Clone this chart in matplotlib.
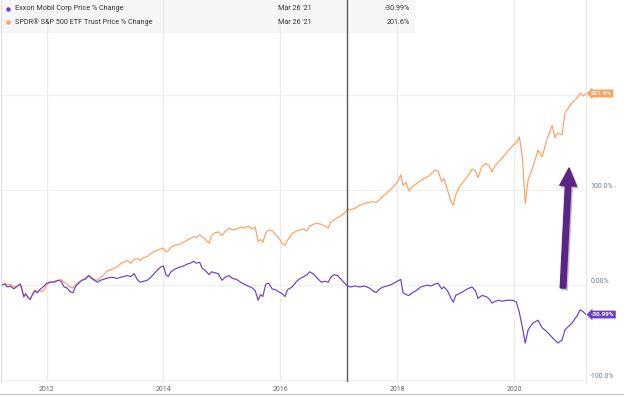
import matplotlib
matplotlib.use("Agg")
import matplotlib.pyplot as plt
from matplotlib.patches import Rectangle

plt.rcParams['font.family'] = ['Roboto', 'DejaVu Sans']

# ---- data (decimal year, % change) ----
dates = [2011.23, 2011.29, 2011.33, 2011.38, 2011.44, 2011.50, 2011.55, 2011.58, 2011.61, 2011.64,
         2011.68, 2011.72, 2011.76, 2011.80, 2011.84, 2011.88, 2011.92, 2011.96, 2012.00, 2012.06,
         2012.13, 2012.20, 2012.25, 2012.30, 2012.35, 2012.40, 2012.45, 2012.50, 2012.55, 2012.60,
         2012.66, 2012.72, 2012.77, 2012.82, 2012.87, 2012.92, 2012.97, 2013.02, 2013.08, 2013.14,
         2013.20, 2013.26, 2013.32, 2013.38, 2013.44, 2013.50, 2013.55, 2013.60, 2013.66, 2013.72,
         2013.78, 2013.84, 2013.90, 2013.95, 2014.00, 2014.04, 2014.08, 2014.13, 2014.20, 2014.28,
         2014.34, 2014.40, 2014.46, 2014.52, 2014.56, 2014.62, 2014.66, 2014.72, 2014.78, 2014.82,
         2014.88, 2014.94, 2015.00, 2015.05, 2015.12, 2015.18, 2015.25, 2015.32, 2015.38, 2015.45,
         2015.52, 2015.57, 2015.62, 2015.66, 2015.70, 2015.75, 2015.80, 2015.86, 2015.92, 2015.97,
         2016.03, 2016.08, 2016.12, 2016.20, 2016.28, 2016.34, 2016.40, 2016.46, 2016.50, 2016.56,
         2016.62, 2016.70, 2016.76, 2016.82, 2016.86, 2016.92, 2016.98, 2017.04, 2017.10, 2017.15,
         2017.20, 2017.28, 2017.36, 2017.44, 2017.52, 2017.58, 2017.64, 2017.70, 2017.76, 2017.82,
         2017.88, 2017.94, 2018.00, 2018.06, 2018.10, 2018.15, 2018.20, 2018.26, 2018.32, 2018.40,
         2018.46, 2018.52, 2018.58, 2018.64, 2018.70, 2018.76, 2018.80, 2018.86, 2018.92, 2018.96,
         2019.00, 2019.06, 2019.12, 2019.20, 2019.28, 2019.34, 2019.38, 2019.45, 2019.52, 2019.58,
         2019.62, 2019.68, 2019.74, 2019.80, 2019.88, 2019.98, 2020.04, 2020.09, 2020.14, 2020.19,
         2020.24, 2020.32, 2020.41, 2020.48, 2020.56, 2020.65, 2020.70, 2020.75, 2020.82, 2020.87,
         2020.99, 2021.08, 2021.13, 2021.18, 2021.23]

spy = [0, 2, 0, 1, -2, -1, 1, -4, -13, -10,
       -12, -15, -9, -5, -8, -6, -7, -5, 0, 3,
       4, 5, 6, 3, 1, -2, -3, 1, 3, 5,
       7, 10, 8, 6, 5, 8, 10, 14, 16, 17,
       19, 22, 24, 26, 23, 27, 28, 26, 29, 30,
       33, 35, 37, 38, 39, 35, 36, 40, 42, 43,
       45, 47, 49, 51, 50, 53, 51, 48, 44, 52,
       55, 56, 52, 56, 60, 58, 59, 61, 60, 62,
       59, 61, 46, 48, 45, 55, 58, 57, 53, 50,
       44, 42, 47, 54, 57, 58, 59, 57, 62, 64,
       65, 64, 62, 60, 66, 69, 71, 73, 76, 80,
       79, 81, 84, 86, 87, 88, 87, 90, 94, 97,
       100, 104, 108, 116, 105, 108, 99, 104, 106, 110,
       112, 114, 117, 121, 120, 109, 112, 100, 88, 84,
       95, 103, 108, 114, 122, 120, 113, 125, 128, 125,
       119, 126, 130, 134, 140, 147, 150, 156, 135, 86,
       111, 124, 142, 135, 153, 168, 155, 160, 158, 181,
       192, 197, 202, 199, 201.6]

xom = [0, 1, -2, -1, -4, -1, 1, -5, -12, -9,
       -13, -15, -10, -6, -8, -5, -3, -1, 2, 3,
       3, 5, 4, -2, -3, -7, -8, -1, 2, 5,
       6, 10, 7, 5, 3, 5, 6, 7, 8, 8,
       7, 8, 9, 10, 9, 12, 6, 3, 4, 5,
       8, 12, 16, 19, 20, 11, 9, 14, 17, 19,
       20, 22, 23, 25, 23, 24, 18, 15, 11, 14,
       13, 12, 5, 8, 10, 7, 6, 3, 1, -1,
       -3, -6, -16, -10, -12, 1, 2, -4, -5, -7,
       -9, -12, -5, -2, 4, 7, 9, 11, 14, 12,
       8, 3, 4, 3, 8, 11, 10, 6, 2, -1,
       -2, -1, -2, -1, -3, -6, -8, -4, -2, -1,
       0, 2, 4, 6, -8, -10, -11, -8, -6, -2,
       -1, 0, -1, 1, 2, -4, -2, -6, -14, -18,
       -11, -9, -7, -4, -2, -6, -14, -11, -12, -15,
       -19, -17, -16, -17, -16, -16, -18, -29, -44, -61,
       -47, -40, -37, -45, -49, -55, -58, -61, -58, -47,
       -40, -32, -26, -28, -30.99]

year_ticks = [2012, 2014, 2016, 2018, 2020]
year_labels = ["2012", "2014", "2016", "2018", "2020"]
y_ticks = [-100, 0, 100]
y_labels = ["-100.0%", "0.00%", "100.0%"]
cursor_date = 2017.145
series_names = ["Exxon Mobil Corp Price % Change", "SPDR\u00ae S&P 500 ETF Trust Price % Change"]
last_date_label = "Mar 26 '21"
last_values = ["-30.99%", "201.6%"]

XOM_C = "#6a3fd0"
SPY_C = "#fe9f5e"

W, H = 624, 396
fig = plt.figure(figsize=(W / 100, H / 100), dpi=100)
ax = fig.add_axes([1 / W, 1 - 382 / H, 585 / W, 382 / H])
ax.set_xlim(2011.22, 2021.23)
ax.set_ylim(-102, 300)

# grid
for yv in [-100, 0, 100, 200]:
    ax.axhline(yv, color="#f0f0f0", lw=0.9, zorder=0.5)
for xv in year_ticks:
    ax.axvline(xv, color="#ececec", lw=0.9, zorder=0.5)

# header box
ax.add_patch(Rectangle((0, 1 - 33 / 382), 414 / 585, 33 / 382, transform=ax.transAxes,
                       facecolor="#f6f6f6", edgecolor="none", zorder=0.2))

ax.plot(dates, spy, color=SPY_C, lw=0.85, zorder=2)
ax.plot(dates, xom, color=XOM_C, lw=0.85, zorder=2)

ax.axvline(cursor_date, color="#5a5a5a", lw=1.0, zorder=3)

for s in ["top", "bottom"]:
    ax.spines[s].set_visible(False)
ax.spines["left"].set_color("#dddddd")
ax.spines["right"].set_color("#e6e6e6")
ax.spines["left"].set_linewidth(0.8)
ax.spines["right"].set_linewidth(0.8)

ax.set_xticks(year_ticks)
ax.set_xticklabels(year_labels)
ax.tick_params(axis="x", length=0, pad=3, labelsize=5, labelcolor="#666666")
ax.yaxis.tick_right()
ax.set_yticks(y_ticks)
ax.set_yticklabels(y_labels)
ax.tick_params(axis="y", length=0, pad=3, labelsize=5, labelcolor="#6f7a90")
for lab in ax.get_yticklabels():
    lab.set_verticalalignment("bottom")

# end tags
for val, col, txt in [(spy[-1], SPY_C, last_values[1]), (xom[-1], XOM_C, last_values[0])]:
    ax.annotate(txt, xy=(dates[-1], val), xytext=(3.5, 0), textcoords="offset points",
                ha="left", va="center", fontsize=4.6, color="white", fontweight="bold",
                bbox=dict(boxstyle="larrow,pad=0.22", fc=col, ec="none"),
                annotation_clip=False, zorder=5)

# header legend
rows_y = [1 - 9 / 382, 1 - 22 / 382]
for yy, name, col, val in zip(rows_y, series_names, [XOM_C, SPY_C], last_values):
    ax.plot([7 / 585], [yy], marker="o", ms=2.2, color=col, transform=ax.transAxes,
            clip_on=False, zorder=4)
    ax.text(14 / 585, yy, name, transform=ax.transAxes, fontsize=5.2, color="#333333",
            va="center", ha="left", zorder=4)
    ax.text(277 / 585, yy, last_date_label, transform=ax.transAxes, fontsize=5.2,
            color="#333333", va="center", ha="left", zorder=4)
    ax.text(409 / 585, yy, val, transform=ax.transAxes, fontsize=5.2, color="#333333",
            va="center", ha="right", zorder=4)

# annotation arrow (with soft shadow)
tail = (562 / 585, 1 - 288 / 382)
tip = (568 / 585, 1 - 168 / 382)
style = "simple,head_length=1.6,head_width=1.5,tail_width=0.5"
sh = 1.5 / 585, -1.8 / 382
ax.annotate("", xy=(tip[0] + sh[0], tip[1] + sh[1]), xytext=(tail[0] + sh[0], tail[1] + sh[1]),
            xycoords="axes fraction",
            arrowprops=dict(arrowstyle=style, mutation_scale=8, color="#999999", alpha=0.45,
                            shrinkA=0, shrinkB=0), zorder=5)
ax.annotate("", xy=tip, xytext=tail, xycoords="axes fraction",
            arrowprops=dict(arrowstyle=style, mutation_scale=8, color="#5b2487",
                            shrinkA=0, shrinkB=0), zorder=6)

# bottom border line
fig.add_artist(plt.Line2D([0, 1], [1 - 394 / H, 1 - 394 / H], color="#d0d0d0", lw=1.0,
                          transform=fig.transFigure))

fig.savefig("out.png", dpi=100, facecolor="white")
